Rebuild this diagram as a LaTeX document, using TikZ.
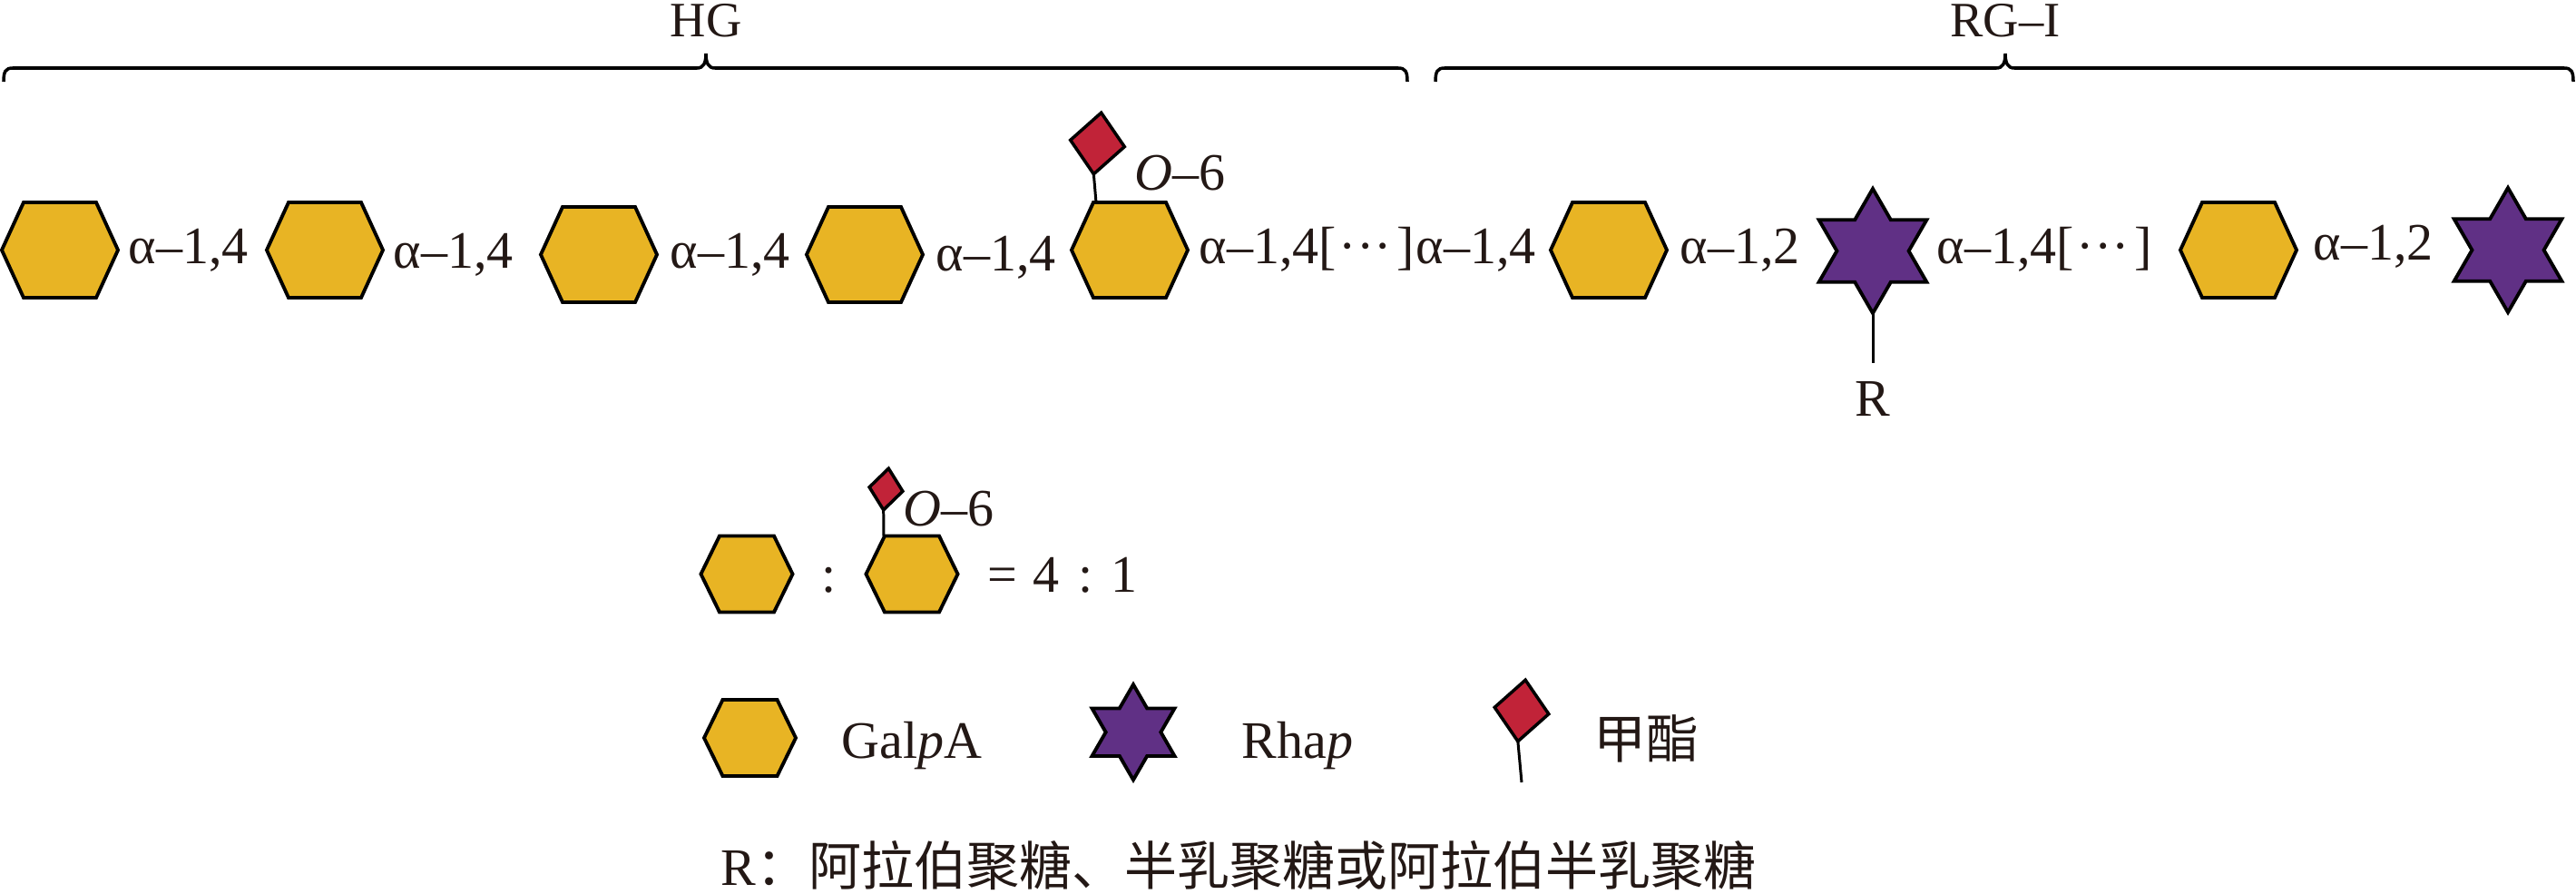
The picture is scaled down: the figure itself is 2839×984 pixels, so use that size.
\documentclass[tikz,border=0pt]{standalone}
\usepackage{fontspec}
\setmainfont{Liberation Serif}
\newfontfamily\cjk{Noto Sans CJK SC}
\usetikzlibrary{shapes.geometric,shapes.symbols}
\definecolor{galgold}{RGB}{232,180,36}
\definecolor{rhapurple}{RGB}{96,48,133}
\definecolor{estered}{RGB}{193,35,56}
\definecolor{ink}{RGB}{35,24,21}
\tikzset{every node/.style={font=\fontsize{16.5}{18}\selectfont, text=ink}}
\tikzset{hexa/.style={shape=signal, signal from=nowhere, signal to=east and west,
    signal pointer angle=130.8, draw=black, fill=galgold, line width=1.1pt,
    inner sep=0pt, outer sep=0pt, minimum width=1.28cm, minimum height=1.05cm}}
\tikzset{hexasmall/.style={hexa, signal pointer angle=127.9,
    minimum width=1.01cm, minimum height=.84cm}}
\tikzset{rhastar/.style={shape=star, star points=6, star point ratio=1.732, draw=black,
    fill=rhapurple, line width=1.1pt, inner sep=0pt, outer sep=0pt, minimum size=1.37cm}}
\tikzset{ester/.style={shape=diamond, draw=black, fill=estered, line width=1pt, inner sep=0pt,
    outer sep=0pt, minimum width=.6cm, minimum height=.68cm, rotate=-7}}
\tikzset{link/.style={draw=black, line width=.85pt}}
\tikzset{bracket/.style={draw=black, line width=1pt}}
\tikzset{lab/.style={anchor=base west, inner sep=0pt}}
\tikzset{mid/.style={anchor=base, inner sep=0pt}}
\tikzset{head/.style={mid, font=\fontsize{15.5}{18}\selectfont}}

\begin{document}
\begin{tikzpicture}[x=.01cm, y=-.01cm]
    \useasboundingbox (0,0) rectangle (2839,984);
    % brackets
    \draw[bracket] (4,90) .. controls (4,79) and (6,75) .. (14,75) -- (768,75)
        .. controls (775,75) and (778,70) .. (778,59) .. controls (778,70) and (781,75) .. (788,75)
        -- (1541,75) .. controls (1549,75) and (1551,79) .. (1551,90);
    \draw[bracket] (1582,90) .. controls (1582,79) and (1584,75) .. (1592,75) -- (2200,75)
        .. controls (2207,75) and (2210,70) .. (2210,59) .. controls (2210,70) and (2213,75) .. (2220,75)
        -- (2826,75) .. controls (2834,75) and (2836,79) .. (2836,90);
    \node[head] (hg) at (778,40) {HG};
    \node[head] (rgi) at (2210,40) {RG–I};
    % main chain
    \node[hexa] (h1) at (66,275.5) {};
    \node[hexa] (h2) at (358,275.5) {};
    \node[hexa] (h3) at (660,280.5) {};
    \node[hexa] (h4) at (953,280.5) {};
    \node[hexa] (h5) at (1245,275.5) {};
    \node[hexa] (h6) at (1773,275.5) {};
    \node[rhastar] (s1) at (2064,276.5) {};
    \node[hexa] (h7) at (2467,275.5) {};
    \node[rhastar] (s2) at (2764,275.5) {};
    \node[lab] (b1) at (141,290) {α–1,4};
    \node[lab] (b2) at (433,295) {α–1,4};
    \node[lab] (b3) at (738,295) {α–1,4};
    \node[lab] (b4) at (1031,298) {α–1,4};
    \node[lab] (b5) at (1321,290) {α–1,4[\kern.05em···\kern.1em]};
    \node[lab] (b6) at (1560,290) {α–1,4};
    \node[lab] (b7) at (1851,290) {α–1,2};
    \node[lab] (b8) at (2134,290) {α–1,4[\kern.05em···\kern.1em]};
    \node[lab] (b9) at (2549,286) {α–1,2};
    % side groups
    \node[ester] (m1) at (1209.5,158) {};
    \draw[link] (m1.south) -- ([xshift=-.37cm]h5.north);
    \node[lab] (o1) at (1250,209) {\textit{O}–6};
    \node[mid, outer sep=.08cm, inner sep=.3333em] (rlab) at (2064,458) {R};
    \draw[link] (s1.south) -- (rlab.north);
    % ratio
    \node[hexasmall] (h8) at (823,632.5) {};
    \node[mid] (colon) at (914,652) {:};
    \node[hexasmall] (h9) at (1005,632.5) {};
    \node[ester, minimum width=.37cm, minimum height=.46cm] (m2) at (976.5,539) {};
    \draw[link] (m2.south) -- ([xshift=-.31cm]h9.north);
    \node[lab] (o2) at (995,579) {\textit{O}–6};
    \node[lab] (ratio) at (1088,652) {=\hspace{.3em}4\hspace{.35em}:\hspace{.35em}1};
    % legend
    \node[hexasmall] (h10) at (826.5,813) {};
    \node[lab] (gal) at (927,835) {Gal\textit{p}A};
    \node[rhastar, minimum size=1.05cm] (s3) at (1249,806.7) {};
    \node[lab] (rha) at (1368,835) {Rha\textit{p}};
    \node[ester] (m3) at (1677,783) {};
    \coordinate (m3end) at (1677,862);
    \draw[link] (m3.south) -- (m3end);
    \node[lab] (est) at (1756,835) {\cjk 甲酯};
    \node[lab] (rnote) at (794,975) {R\cjk ：阿拉伯聚糖、半乳聚糖或阿拉伯半乳聚糖};
\end{tikzpicture}
\end{document}
